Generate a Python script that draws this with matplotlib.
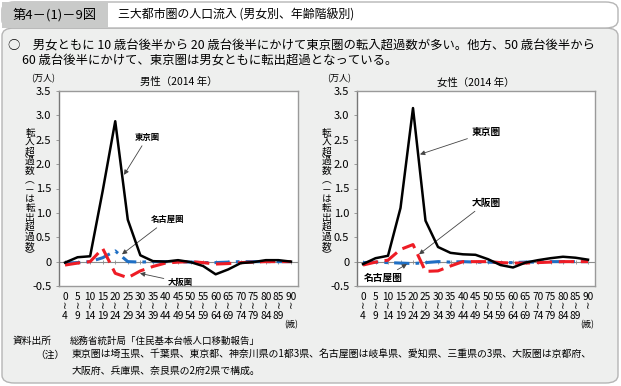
import matplotlib.pyplot as plt
from matplotlib.patches import FancyBboxPatch, Rectangle

plt.rcParams['font.family'] = ['Noto Sans CJK JP', 'DejaVu Sans']

ages = ['0\n≀\n4', '5\n≀\n9', '10\n≀\n14', '15\n≀\n19', '20\n≀\n24', '25\n≀\n29',
        '30\n≀\n34', '35\n≀\n39', '40\n≀\n44', '45\n≀\n49', '50\n≀\n54', '55\n≀\n59',
        '60\n≀\n64', '65\n≀\n69', '70\n≀\n74', '75\n≀\n79', '80\n≀\n84', '85\n≀\n89', '90\n≀']

# 男性 (万人)
male_tokyo = [-0.02, 0.09, 0.11, 1.45, 2.88, 0.86, 0.13, 0.01, 0.0, 0.03, -0.01, -0.09,
              -0.26, -0.16, -0.03, -0.01, 0.03, 0.03, 0.0]
male_osaka = [-0.07, -0.03, 0.0, 0.27, -0.24, -0.33, -0.19, -0.1, -0.03, -0.01, 0.0, -0.02,
              -0.05, -0.04, -0.02, -0.01, 0.0, 0.0, 0.0]
male_nagoya = [-0.03, -0.02, 0.0, 0.08, 0.22, 0.0, -0.01, 0.0, 0.0, 0.0, -0.01, -0.02,
               -0.02, -0.01, 0.0, 0.0, 0.0, 0.0, 0.0]

# 女性 (万人)
female_tokyo = [-0.05, 0.07, 0.12, 1.1, 3.15, 0.84, 0.3, 0.18, 0.15, 0.14, 0.05, -0.07,
                -0.12, -0.02, 0.03, 0.07, 0.1, 0.08, 0.04]
female_osaka = [-0.07, -0.01, 0.03, 0.25, 0.35, -0.2, -0.19, -0.09, 0.0, 0.0, 0.0, -0.02,
                -0.03, -0.03, -0.02, -0.01, 0.0, 0.0, 0.0]
female_nagoya = [-0.02, -0.01, -0.02, -0.03, -0.04, -0.02, 0.0, -0.01, 0.0, -0.01, -0.01, -0.02,
                 -0.02, -0.01, -0.01, 0.0, 0.0, 0.0, 0.0]

yticks = [-0.5, 0, 0.5, 1.0, 1.5, 2.0, 2.5, 3.0, 3.5]
ytick_labels = ['-0.5', '0', '0.5', '1.0', '1.5', '2.0', '2.5', '3.0', '3.5']

W, H = 621, 386
fig = plt.figure(figsize=(W / 100, H / 100), dpi=100)
fig.patch.set_facecolor('white')


def fx(px):
    return px / W


def fy(py):
    return 1 - py / H


# panel background
fig.patches.append(FancyBboxPatch((fx(2), fy(383)), fx(616), fy(28) - fy(383),
                                  boxstyle='round,pad=0,rounding_size=0.02',
                                  transform=fig.transFigure, facecolor='#eeefee',
                                  edgecolor='#b5b5b5', lw=1.0, zorder=-10))
fig.patches.append(FancyBboxPatch((fx(2), fy(28)), fx(616), fy(2) - fy(28),
                                  boxstyle='round,pad=0,rounding_size=0.02',
                                  transform=fig.transFigure, facecolor='white',
                                  edgecolor='#b5b5b5', lw=1.0, zorder=-10))
fig.patches.append(Rectangle((fx(2), fy(28)), fx(106), fy(2) - fy(28),
                             transform=fig.transFigure, facecolor='#c9cac9',
                             edgecolor='none', zorder=-9))

fig.text(fx(13), fy(15), '第4－(1)－9図', fontsize=9.5, va='center', ha='left')
fig.text(fx(118), fy(15), '三大都市圏の人口流入 (男女別、年齢階級別)', fontsize=8.6,
         va='center', ha='left')
fig.text(fx(8), fy(46), '○　男女ともに 10 歳台後半から 20 歳台後半にかけて東京圏の転入超過数が多い。他方、50 歳台後半から',
         fontsize=8.9, va='center', ha='left')
fig.text(fx(22), fy(61), '60 歳台後半にかけて、東京圏は男女ともに転出超過となっている。',
         fontsize=8.9, va='center', ha='left')

fig.text(fx(13), fy(341), '資料出所', fontsize=7, va='center', ha='left')
fig.text(fx(70), fy(341), '総務省統計局「住民基本台帳人口移動報告」', fontsize=6.8,
         va='center', ha='left')
fig.text(fx(35), fy(355), '（注）', fontsize=7, va='center', ha='left')
fig.text(fx(72), fy(355), '東京圏は埼玉県、千葉県、東京都、神奈川県の1都3県、名古屋圏は岐阜県、愛知県、三重県の3県、大阪圏は京都府、',
         fontsize=7.15, va='center', ha='left')
fig.text(fx(72), fy(371), '大阪府、兵庫県、奈良県の2府2県で構成。', fontsize=7.15,
         va='center', ha='left')

ylabel = '\n'.join('転入超過数︵－は転出超過数︶')
x = list(range(len(ages)))


def draw(ax, tokyo, osaka, nagoya, title):
    ax.set_facecolor('white')
    ax.axhline(0, color='#8c8c8c', lw=0.8, zorder=1)
    ax.plot(x, [0] * len(x), ls='none', marker='|', ms=3, mew=0.6, color='#8c8c8c', zorder=1)
    ax.plot(x, nagoya, color='#1f6fc4', lw=2.2, dashes=(5, 2, 1.2, 2), zorder=3)
    ax.plot(x, osaka, color='#ee1c25', lw=2.2, dashes=(5, 2.2), zorder=4)
    ax.plot(x, tokyo, color='black', lw=1.8, zorder=5)
    ax.set_xlim(-0.48, 18.56)
    ax.set_ylim(-0.5, 3.5)
    ax.set_yticks(yticks)
    ax.set_yticklabels(ytick_labels, fontsize=8)
    ax.set_xticks(x)
    ax.set_xticklabels(ages, fontsize=7.3, linespacing=0.95, va='top')
    ax.tick_params(axis='x', length=0, pad=4)
    ax.tick_params(axis='y', length=2.5, width=0.6, color='#8c8c8c', pad=3)
    for s in ax.spines.values():
        s.set_color('#9a9a9a')
        s.set_linewidth(1.0)
    ax.spines['left'].set_color('#777777')
    ax.set_title(title, fontsize=7.5, pad=4)


ax1 = fig.add_axes([fx(59), fy(286), fx(239), fy(91) - fy(286)])
ax2 = fig.add_axes([fx(357), fy(286), fx(238), fy(91) - fy(286)])
draw(ax1, male_tokyo, male_osaka, male_nagoya, '男性（2014 年）')
draw(ax2, female_tokyo, female_osaka, female_nagoya, '女性（2014 年）')

for cx, ux in [(30, 43), (327, 339)]:
    fig.text(fx(cx), fy(194), ylabel, fontsize=7, linespacing=0.93,
             ha='center', va='center')
    fig.text(fx(ux), fy(79), '(万人)', fontsize=6.5, ha='center', va='center')
for rx in [291, 587]:
    fig.text(fx(rx), fy(325), '(歳)', fontsize=6, ha='center', va='center')

arrow = dict(arrowstyle='-|>', color='#444444', lw=0.6, mutation_scale=7,
             shrinkA=1, shrinkB=0)
ax1.annotate('東京圏', xy=(4.7, 1.78), xytext=(6.55, 2.55), fontsize=6, fontweight='bold',
             ha='center', va='center', arrowprops=arrow)
ax1.annotate('名古屋圏', xy=(4.54, 0.15), xytext=(8.15, 0.86), fontsize=6, fontweight='bold',
             ha='center', va='center', arrowprops=arrow)
ax1.annotate('大阪圏', xy=(5.97, -0.24), xytext=(9.2, -0.42), fontsize=6, fontweight='bold',
             ha='center', va='center', arrowprops=arrow)
ax2.annotate('東京圏', xy=(4.56, 2.2), xytext=(9.85, 2.65), fontsize=7, fontweight='bold',
             ha='center', va='center', arrowprops=arrow)
ax2.annotate('大阪圏', xy=(4.48, 0.15), xytext=(9.85, 1.21), fontsize=7, fontweight='bold',
             ha='center', va='center', arrowprops=arrow)
ax2.annotate('名古屋圏', xy=(3.52, -0.05), xytext=(1.6, -0.34), fontsize=7, fontweight='bold',
             ha='center', va='center', arrowprops=arrow)

fig.savefig('out.png', dpi=100, facecolor=fig.get_facecolor())
